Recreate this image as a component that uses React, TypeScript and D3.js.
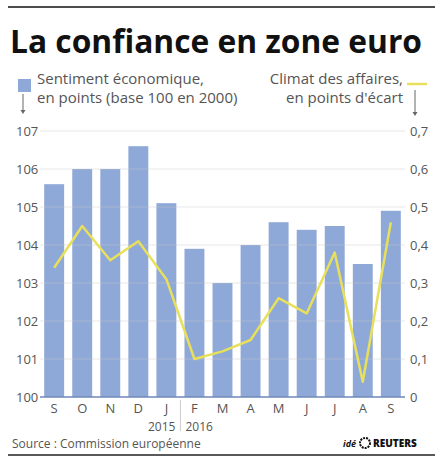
import React, { useRef, useEffect } from "react";
import * as d3 from "d3";

const months = ["S", "O", "N", "D", "J", "F", "M", "A", "M", "J", "J", "A", "S"];
const sentiment = [105.6, 106.0, 106.0, 106.6, 105.1, 103.9, 103.0, 104.0, 104.6, 104.4, 104.5, 103.5, 104.9];
const climat = [0.34, 0.45, 0.36, 0.41, 0.31, 0.1, 0.12, 0.15, 0.26, 0.22, 0.38, 0.04, 0.46];
const leftTicks = [100, 101, 102, 103, 104, 105, 106, 107];
const rightTicks = [0, 0.1, 0.2, 0.3, 0.4, 0.5, 0.6, 0.7];

const W = 444;
const H = 459;
const FONT = "'Open Sans', sans-serif";

const App: React.FC = () => {
  const svgRef = useRef<SVGSVGElement>(null);

  useEffect(() => {
    if (!svgRef.current) return;
    const svg = d3.select(svgRef.current);
    svg.selectAll("*").remove();

    const margin = { top: 131, bottom: 397, left: 40, right: 405 };

    const x = d3
      .scaleBand<number>()
      .domain(d3.range(months.length))
      .range([margin.left, margin.right])
      .paddingInner(0.29)
      .paddingOuter(0.15);

    const yL = d3.scaleLinear().domain([100, 107]).range([margin.bottom, margin.top]);
    const yR = d3.scaleLinear().domain([0, 0.7]).range([margin.bottom, margin.top]);

    // frame lines
    svg.append("line").attr("x1", 8).attr("x2", 435).attr("y1", 7).attr("y2", 7)
      .attr("stroke", "#111").attr("stroke-width", 1.5);
    svg.append("line").attr("x1", 8).attr("x2", 435).attr("y1", 455).attr("y2", 455)
      .attr("stroke", "#222").attr("stroke-width", 1.5);

    // title
    svg.append("text").attr("x", 10).attr("y", 53)
      .attr("font-family", FONT).attr("font-weight", 700).attr("font-size", 33)
      .attr("fill", "#111").attr("textLength", 412).attr("lengthAdjust", "spacingAndGlyphs")
      .text("La confiance en zone euro");

    // legend left
    svg.append("rect").attr("x", 18).attr("y", 79).attr("width", 13).attr("height", 13).attr("fill", "#8ea8d8");
    const lg = svg.append("text").attr("font-family", FONT).attr("font-size", 15).attr("fill", "#555");
    lg.append("tspan").attr("x", 37).attr("y", 84).text("Sentiment économique,");
    lg.append("tspan").attr("x", 37).attr("y", 103).text("en points (base 100 en 2000)");

    // legend right
    const rg = svg.append("text").attr("font-family", FONT).attr("font-size", 15).attr("fill", "#555")
      .attr("text-anchor", "end");
    rg.append("tspan").attr("x", 403).attr("y", 84).text("Climat des affaires,");
    rg.append("tspan").attr("x", 403).attr("y", 103).text("en points d'écart");
    svg.append("line").attr("x1", 407).attr("x2", 427).attr("y1", 84).attr("y2", 84)
      .attr("stroke", "#e8e05a").attr("stroke-width", 2.5);

    // arrows
    const arrow = (ax: number, y1: number, y2: number) => {
      svg.append("line").attr("x1", ax).attr("x2", ax).attr("y1", y1).attr("y2", y2 - 3)
        .attr("stroke", "#666").attr("stroke-width", 1);
      svg.append("path").attr("d", `M${ax - 2.5},${y2 - 4}L${ax + 2.5},${y2 - 4}L${ax},${y2}Z`).attr("fill", "#666");
    };
    arrow(23, 94, 114);
    arrow(415, 90, 116);

    // bars
    svg.selectAll(".bar").data(sentiment).enter().append("rect")
      .attr("class", "bar")
      .attr("x", (_, i) => x(i) ?? 0)
      .attr("width", x.bandwidth())
      .attr("y", (d) => yL(d))
      .attr("height", (d) => yL(100) - yL(d))
      .attr("fill", "#8ea8d8");

    // gridlines
    svg.selectAll(".grid").data(leftTicks.slice(1)).enter().append("line")
      .attr("x1", margin.left).attr("x2", margin.right)
      .attr("y1", (d) => yL(d)).attr("y2", (d) => yL(d))
      .attr("stroke", "#c8c8c8").attr("stroke-opacity", 0.45).attr("stroke-width", 1);
    svg.append("line").attr("x1", margin.left).attr("x2", margin.right)
      .attr("y1", yL(100)).attr("y2", yL(100)).attr("stroke", "#6f88b8").attr("stroke-width", 1.5);

    // left axis labels
    svg.selectAll(".lt").data(leftTicks).enter().append("text")
      .attr("x", 16).attr("y", (d) => yL(d) + 5)
      .attr("font-family", FONT).attr("font-size", 13).attr("fill", "#555")
      .text((d) => d);

    // right axis labels
    svg.selectAll(".rt").data(rightTicks).enter().append("text")
      .attr("x", 410).attr("y", (d) => yR(d) + 5)
      .attr("font-family", FONT).attr("font-size", 13).attr("fill", "#555")
      .text((d) => (d === 0 ? "0" : d3.format(".1f")(d).replace(".", ",")));

    // line
    const line = d3.line<number>()
      .x((_, i) => (x(i) ?? 0) + x.bandwidth() / 2)
      .y((d) => yR(d));
    svg.append("path").datum(climat).attr("d", line)
      .attr("fill", "none").attr("stroke", "#e8e05a").attr("stroke-width", 2.5)
      .attr("stroke-linejoin", "round");

    // month labels
    svg.selectAll(".mt").data(months).enter().append("text")
      .attr("x", (_, i) => (x(i) ?? 0) + x.bandwidth() / 2).attr("y", 413)
      .attr("text-anchor", "middle")
      .attr("font-family", FONT).attr("font-size", 13).attr("fill", "#555")
      .text((d) => d);

    // year separator
    const sepX = ((x(4) ?? 0) + x.bandwidth() + (x(5) ?? 0)) / 2;
    svg.append("line").attr("x1", sepX).attr("x2", sepX).attr("y1", 400).attr("y2", 431)
      .attr("stroke", "#ccc").attr("stroke-width", 1);
    svg.append("text").attr("x", sepX - 5).attr("y", 431).attr("text-anchor", "end")
      .attr("font-family", FONT).attr("font-size", 12).attr("fill", "#555").text("2015");
    svg.append("text").attr("x", sepX + 5).attr("y", 431)
      .attr("font-family", FONT).attr("font-size", 12).attr("fill", "#555").text("2016");

    // source
    svg.append("text").attr("x", 12).attr("y", 448)
      .attr("font-family", FONT).attr("font-size", 12).attr("fill", "#555")
      .text("Source : Commission européenne");

    // logo
    svg.append("text").attr("x", 343).attr("y", 447)
      .attr("font-family", FONT).attr("font-size", 9).attr("font-weight", 700).attr("font-style", "italic")
      .attr("fill", "#111").text("idé");
    svg.append("circle").attr("cx", 365).attr("cy", 443).attr("r", 5).attr("fill", "none")
      .attr("stroke", "#111").attr("stroke-width", 2).attr("stroke-dasharray", "2,1");
    svg.append("text").attr("x", 373).attr("y", 447)
      .attr("font-family", FONT).attr("font-size", 10).attr("font-weight", 800)
      .attr("fill", "#111").text("REUTERS");
  }, []);

  return (
    <svg ref={svgRef} width={W} height={H} style={{ position: "absolute", left: 0, top: 0 }}></svg>
  );
};

export default App;
